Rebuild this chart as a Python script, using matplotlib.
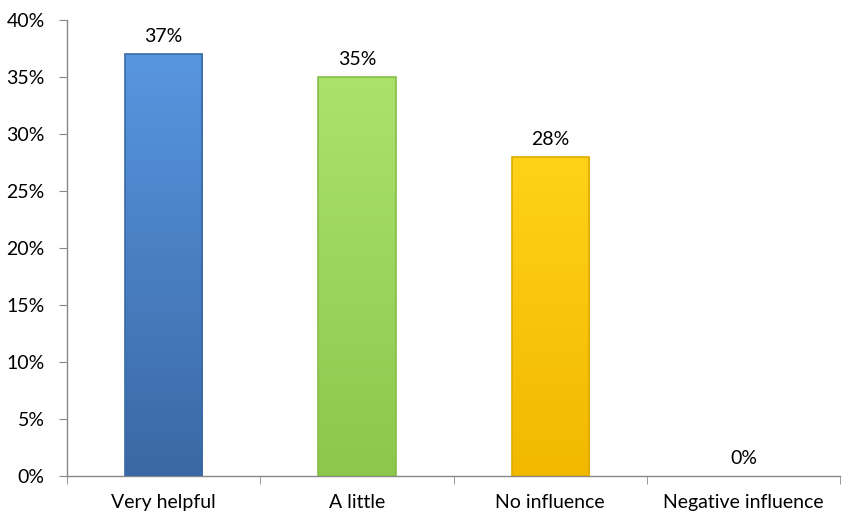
import matplotlib
matplotlib.use("Agg")
import matplotlib.pyplot as plt
import numpy as np
from matplotlib.colors import LinearSegmentedColormap

categories = ["Very helpful", "A little", "No influence", "Negative influence"]
values = [37, 35, 28, 0]
labels = ["37%", "35%", "28%", "0%"]
top_colors = ["#5896E0", "#ABE26C", "#FFD21A", "#999999"]
bot_colors = ["#3A68A4", "#8CC84C", "#F2B800", "#777777"]
edge_colors = ["#3A6AA6", "#86BD48", "#E0AA00", "#777777"]

plt.rcParams['font.family'] = ['Lato', 'DejaVu Sans']

fig = plt.figure(figsize=(8.55, 5.24), dpi=100)
ax = fig.add_axes([0.0784, 0.0916, 0.9041, 0.8702])

x = np.arange(len(categories))
width = 0.40
bars = ax.bar(x, values, width=width, color="none", edgecolor="none", zorder=2)
for i, b in enumerate(bars):
    if values[i] <= 0:
        continue
    cmap = LinearSegmentedColormap.from_list("g", [bot_colors[i], top_colors[i]])
    grad = np.linspace(0, 1, 256).reshape(-1, 1)
    bx, by = b.get_x(), b.get_y()
    bw, bh = b.get_width(), b.get_height()
    im = ax.imshow(grad, extent=[bx, bx + bw, by, by + bh], origin="lower",
                   aspect="auto", cmap=cmap, zorder=2)
    im.set_clip_path(b)
    ax.bar(x[i], values[i], width=width, color="none", edgecolor=edge_colors[i],
           linewidth=1.2, zorder=3)

for i, v in enumerate(values):
    ax.text(x[i], v + 0.8, labels[i], ha="center", va="bottom", fontsize=14, color="black")

ax.set_xlim(-0.5, len(categories) - 0.5)
ax.set_ylim(0, 40)
ax.set_yticks(np.arange(0, 41, 5))
ax.set_yticklabels([f"{t}%" for t in range(0, 41, 5)], fontsize=14)
ax.set_xticks(x)
ax.set_xticklabels(categories, fontsize=14)
ax.set_xticks(np.arange(-0.5, len(categories), 1), minor=True)
ax.tick_params(axis="x", which="major", length=0, pad=13)
ax.tick_params(axis="x", which="minor", length=6, color="#888888", direction="out")
ax.tick_params(axis="y", length=6, color="#888888", direction="out", pad=10)

for s in ["top", "right"]:
    ax.spines[s].set_visible(False)
for s in ["left", "bottom"]:
    ax.spines[s].set_color("#888888")
    ax.spines[s].set_linewidth(1.0)

fig.savefig("out.png", dpi=100, facecolor="white")
